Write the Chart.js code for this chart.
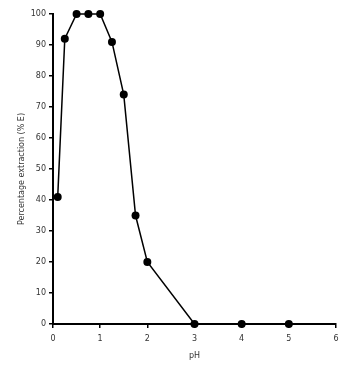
<!DOCTYPE html>
<html><head><meta charset="utf-8">
<script src="https://cdn.jsdelivr.net/npm/chart.js@4/dist/chart.umd.min.js"></script>
<style>html,body{margin:0;padding:0;background:#fff}canvas{display:block}</style>
</head><body>
<canvas id="c" width="357" height="379"></canvas>
<script>
const phValues = [0.1, 0.25, 0.5, 0.75, 1, 1.25, 1.5, 1.75, 2, 3, 4, 5];
const extraction = [41, 92, 100, 100, 100, 91, 74, 35, 20, 0, 0, 0];
const xTicks = [0, 1, 2, 3, 4, 5, 6];
const yTicks = [0, 10, 20, 30, 40, 50, 60, 70, 80, 90, 100];
const xTitle = 'pH';
const yTitle = 'Percentage extraction (% E)';

const font = {family: 'DejaVu Sans', size: 8};
new Chart(document.getElementById('c'), {
  type: 'scatter',
  data: {datasets: [{
    data: phValues.map((x, i) => ({x, y: extraction[i]})),
    showLine: true,
    borderColor: '#000', backgroundColor: '#000',
    borderWidth: 1.5, pointRadius: 4, pointHoverRadius: 4, pointBorderWidth: 0,
    clip: false
  }]},
  options: {
    responsive: false, animation: false,
    layout: {padding: {left: 17, right: 21, top: 14, bottom: 18}},
    plugins: {legend: {display: false}, tooltip: {enabled: false}},
    scales: {
      x: {
        type: 'linear', min: 0, max: 6,
        afterBuildTicks: s => { s.ticks = xTicks.map(v => ({value: v})); },
        afterFit: s => { s.height = 37; },
        border: {color: '#000', width: 2},
        grid: {drawOnChartArea: false, tickLength: 4, color: '#000', tickColor: '#000', lineWidth: 1.5},
        ticks: {font, color: '#333', padding: 6, maxRotation: 0},
        title: {display: true, text: xTitle, font, color: '#333', padding: {top: 0, bottom: 0}}
      },
      y: {
        type: 'linear', min: 0, max: 100,
        afterBuildTicks: s => { s.ticks = yTicks.map(v => ({value: v})); },
        afterFit: s => { s.width = 36; },
        border: {color: '#000', width: 2},
        grid: {drawOnChartArea: false, tickLength: 4, color: '#000', tickColor: '#000', lineWidth: 1.5},
        ticks: {font, color: '#333', padding: 3},
        title: {display: true, text: yTitle, font, color: '#333', padding: {top: 0, bottom: 0}}
      }
    }
  }
});
</script>
</body></html>
